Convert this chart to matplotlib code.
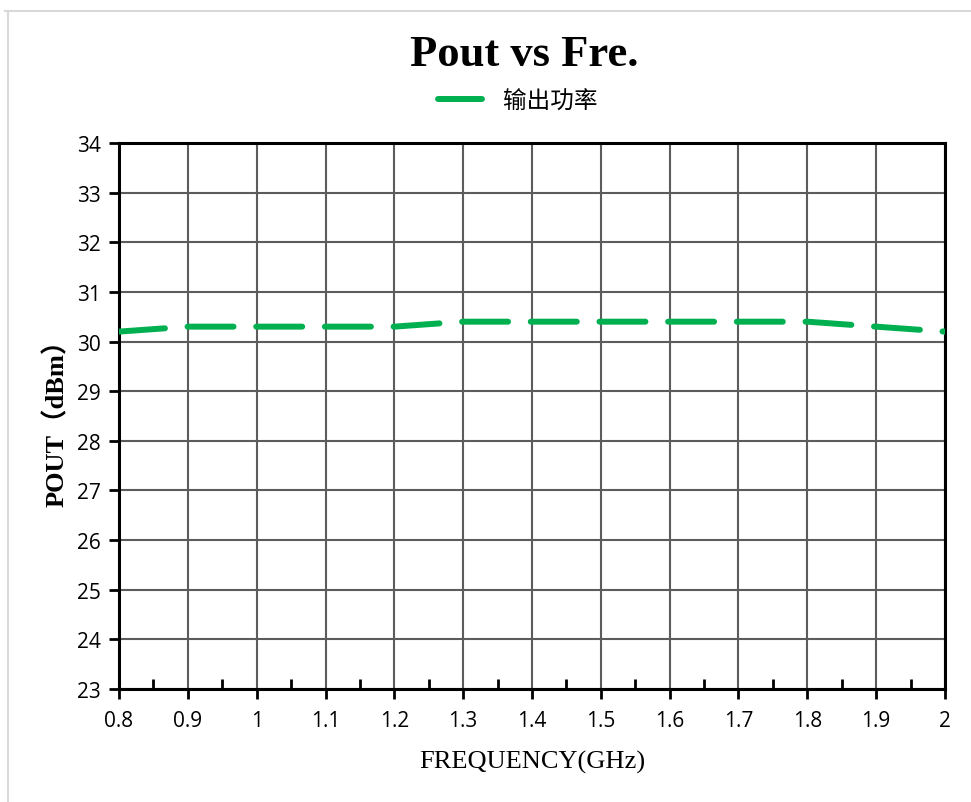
import numpy as np
import matplotlib
matplotlib.use("Agg")
import matplotlib.pyplot as plt
from matplotlib.lines import Line2D
from matplotlib.ticker import MultipleLocator

# 频率 (GHz) 与输出功率 (dBm)
freq = [0.8, 0.9, 1.0, 1.1, 1.2, 1.3, 1.4, 1.5, 1.6, 1.7, 1.8, 1.9, 2.0]
pout = [30.2, 30.3, 30.3, 30.3, 30.3, 30.4, 30.4, 30.4, 30.4, 30.4, 30.4, 30.3, 30.2]
x_ticks = [0.8, 0.9, 1.0, 1.1, 1.2, 1.3, 1.4, 1.5, 1.6, 1.7, 1.8, 1.9, 2.0]
x_labels = ["0.8", "0.9", "1", "1.1", "1.2", "1.3", "1.4", "1.5", "1.6", "1.7", "1.8", "1.9", "2"]
y_ticks = list(range(23, 35))

serif = ["Liberation Serif", "Noto Sans CJK SC"]
sans = ["Open Sans", "DejaVu Sans"]

fig = plt.figure(figsize=(9.71, 8.03), dpi=100)
ax = fig.add_axes([0.1226, 0.1407, 0.8506, 0.68])

# 浅灰色边框 (上、左)
fig.add_artist(Line2D([0.005, 1.0], [0.985, 0.985], transform=fig.transFigure,
                      color="#d9d9d9", lw=1.5))
fig.add_artist(Line2D([0.0085, 0.0085], [0.0, 0.985], transform=fig.transFigure,
                      color="#d9d9d9", lw=1.5))

ax.plot(freq, pout, color="#00b050", lw=4.3, dashes=(7.7, 3.8),
        dash_capstyle="round", solid_capstyle="round", label="输出功率", zorder=3)

ax.set_xlim(0.8, 2.0)
ax.set_ylim(23, 34)
ax.set_xticks(x_ticks)
ax.set_xticklabels(x_labels)
ax.set_yticks(y_ticks)
ax.xaxis.set_minor_locator(MultipleLocator(0.05))

ax.grid(True, which="major", color="#5c5c5c", lw=1.5)
ax.set_axisbelow(True)
for s in ax.spines.values():
    s.set_linewidth(2.2)
    s.set_color("black")

ax.tick_params(axis="both", which="major", direction="out", length=7, width=2,
               labelsize=15, pad=6)
ax.tick_params(axis="x", which="major", pad=8)
ax.tick_params(axis="x", which="minor", direction="in", length=7, width=2)
for lab in ax.get_xticklabels() + ax.get_yticklabels():
    lab.set_fontfamily(sans)

ax.set_xlabel("FREQUENCY(GHz)", fontsize=19, family=serif, labelpad=14)
ax.set_ylabel("POUT（dBm）", fontsize=19, family=serif, fontweight="bold", labelpad=6)

fig.text(0.5395, 0.931, "Pout vs Fre.", ha="center", va="center",
         fontsize=32, fontweight="bold", family=serif)
leg = fig.legend(handles=ax.get_lines(), loc="center", bbox_to_anchor=(0.5335, 0.873),
                 frameon=False, prop={"family": ["Noto Sans CJK SC"], "size": 17},
                 handlelength=1.86, handletextpad=0.9)

fig.savefig("out.png", dpi=100, facecolor="white")
